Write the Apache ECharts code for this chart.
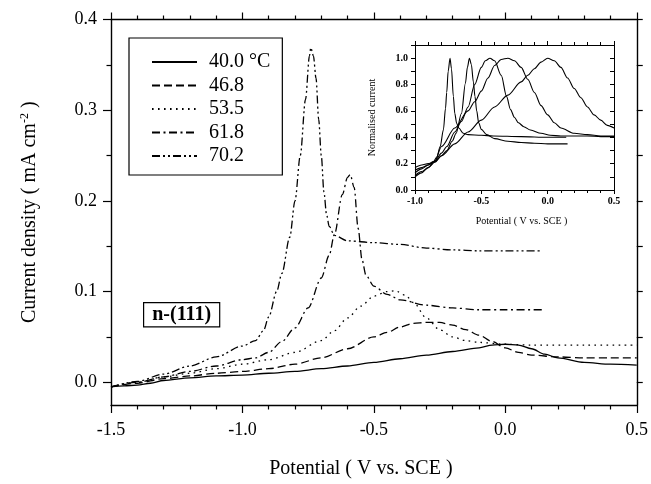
<!DOCTYPE html>
<html>
<head>
<meta charset="utf-8">
<script src="https://cdn.jsdelivr.net/npm/echarts@6/dist/echarts.min.js"></script>
<style>
html,body{margin:0;padding:0;background:#fff;}
#chart{width:651px;height:484px;}
</style>
</head>
<body>
<div id="chart"></div>
<script>
// ---------- Main chart data (Potential V vs SCE, current density mA cm^-2) ----------
const seriesNames = ['40.0 °C', '46.8', '53.5', '61.8', '70.2'];

const v40 = [-1.5,-1.45,-1.4,-1.35,-1.3,-1.2,-1.1,-1.0,-0.9,-0.8,-0.7,-0.6,-0.5,-0.4,-0.3,-0.2,-0.1,-0.05,0.0,0.05,0.1,0.15,0.2,0.3,0.4,0.5];
const j40 = [-0.005,-0.004,-0.003,-0.001,0.002,0.005,0.007,0.008,0.010,0.012,0.015,0.018,0.022,0.026,0.030,0.034,0.038,0.041,0.042,0.041,0.037,0.031,0.027,0.022,0.020,0.019];

const v47 = [-1.5,-1.4,-1.3,-1.2,-1.1,-1.0,-0.9,-0.8,-0.7,-0.6,-0.5,-0.45,-0.4,-0.35,-0.3,-0.25,-0.2,-0.15,-0.1,-0.05,0.0,0.05,0.1,0.2,0.3,0.4,0.5];
const j47 = [-0.005,-0.001,0.004,0.007,0.010,0.012,0.015,0.020,0.027,0.037,0.050,0.055,0.061,0.065,0.066,0.066,0.063,0.058,0.052,0.045,0.038,0.033,0.030,0.028,0.027,0.027,0.027];

const v54 = [-1.5,-1.4,-1.3,-1.2,-1.1,-1.0,-0.9,-0.8,-0.7,-0.65,-0.6,-0.55,-0.5,-0.45,-0.42,-0.38,-0.35,-0.3,-0.25,-0.2,-0.15,-0.1,0.0,0.1,0.3,0.5];
const j54 = [-0.005,0.000,0.006,0.010,0.015,0.020,0.025,0.033,0.046,0.057,0.071,0.084,0.095,0.100,0.101,0.096,0.088,0.071,0.058,0.050,0.046,0.044,0.042,0.041,0.041,0.041];

const v62 = [-1.5,-1.4,-1.3,-1.2,-1.1,-1.0,-0.95,-0.9,-0.85,-0.8,-0.75,-0.7,-0.67,-0.65,-0.62,-0.6,-0.59,-0.575,-0.56,-0.545,-0.53,-0.5,-0.45,-0.4,-0.3,-0.2,-0.1,0.0,0.15];
const j62 = [-0.005,0.000,0.006,0.012,0.018,0.025,0.027,0.033,0.045,0.060,0.082,0.115,0.140,0.163,0.207,0.226,0.229,0.215,0.170,0.135,0.118,0.106,0.097,0.091,0.085,0.082,0.080,0.080,0.080];

const v70 = [-1.5,-1.4,-1.3,-1.2,-1.1,-1.0,-0.95,-0.92,-0.9,-0.87,-0.85,-0.82,-0.8,-0.78,-0.76,-0.745,-0.74,-0.73,-0.72,-0.71,-0.7,-0.69,-0.68,-0.67,-0.65,-0.6,-0.5,-0.4,-0.3,-0.2,-0.1,0.0,0.14];
const j70 = [-0.005,0.001,0.009,0.018,0.028,0.040,0.046,0.057,0.072,0.100,0.120,0.160,0.200,0.250,0.312,0.360,0.369,0.360,0.335,0.290,0.250,0.210,0.185,0.172,0.162,0.156,0.154,0.152,0.148,0.146,0.145,0.145,0.145];

// ---------- Inset data (normalised current) ----------
const iv40 = [-1.0,-0.95,-0.9,-0.85,-0.8,-0.7,-0.6,-0.5,-0.4,-0.3,-0.2,-0.15,-0.1,-0.05,0.0,0.05,0.1,0.15,0.2,0.25,0.3,0.35,0.4,0.45,0.5];
const in40 = [0.10,0.13,0.17,0.21,0.26,0.35,0.44,0.53,0.63,0.72,0.82,0.87,0.92,0.97,1.0,0.98,0.93,0.85,0.77,0.70,0.63,0.57,0.53,0.49,0.47];

const iv47 = [-1.0,-0.95,-0.9,-0.85,-0.8,-0.7,-0.6,-0.55,-0.5,-0.45,-0.4,-0.35,-0.3,-0.25,-0.2,-0.15,-0.1,-0.05,0.0,0.05,0.1,0.2,0.3,0.4,0.5];
const in47 = [0.11,0.14,0.17,0.22,0.33,0.47,0.60,0.67,0.75,0.85,0.945,0.99,1.0,0.98,0.93,0.84,0.74,0.64,0.57,0.51,0.47,0.43,0.42,0.41,0.41];

const iv54 = [-1.0,-0.95,-0.9,-0.85,-0.8,-0.76,-0.7,-0.65,-0.6,-0.55,-0.5,-0.47,-0.435,-0.4,-0.35,-0.31,-0.28,-0.25,-0.22,-0.18,-0.13,-0.05,0.02,0.1,0.2,0.3,0.4,0.5];
const in54 = [0.13,0.16,0.19,0.22,0.28,0.33,0.44,0.52,0.63,0.80,0.93,0.98,1.0,0.98,0.87,0.71,0.61,0.55,0.51,0.48,0.455,0.43,0.415,0.41,0.41,0.41,0.405,0.405];

const iv62 = [-1.0,-0.95,-0.9,-0.85,-0.8,-0.76,-0.72,-0.69,-0.65,-0.62,-0.605,-0.59,-0.575,-0.56,-0.548,-0.535,-0.52,-0.5,-0.46,-0.4,-0.3,-0.2,-0.1,0.0,0.15];
const in62 = [0.15,0.17,0.19,0.215,0.26,0.30,0.37,0.43,0.58,0.81,0.93,1.0,0.95,0.82,0.71,0.60,0.51,0.46,0.42,0.39,0.37,0.36,0.355,0.35,0.35];

const iv70 = [-1.0,-0.95,-0.9,-0.86,-0.836,-0.81,-0.786,-0.77,-0.761,-0.75,-0.736,-0.725,-0.711,-0.7,-0.686,-0.67,-0.636,-0.6,-0.5,-0.41,-0.2,0.0,0.14];
const in70 = [0.17,0.19,0.20,0.215,0.25,0.33,0.456,0.62,0.74,0.90,1.0,0.92,0.71,0.58,0.506,0.47,0.43,0.42,0.415,0.41,0.405,0.40,0.40];

// ---------- Tick values ----------
const mainYLabels = [0.0, 0.1, 0.2, 0.3, 0.4];
const mainYMinor = [0.05, 0.15, 0.25, 0.35];
const mainYRight = [0.0,0.05,0.1,0.15,0.2,0.25,0.3,0.35,0.4];
const insetYLabels = [0.0,0.2,0.4,0.6,0.8,1.0];
const insetYTicks = [0.0,0.1,0.2,0.3,0.4,0.5,0.6,0.7,0.8,0.9,1.0,1.1];

const zip = (a, b) => a.map((x, i) => [x, b[i]]);
const mainV = [v40, v47, v54, v62, v70];
const mainJ = [j40, j47, j54, j62, j70];
const insetV = [iv40, iv47, iv54, iv62, iv70];
const insetN = [in40, in47, in54, in62, in70];
const dashes = ['solid', [8,4], [1.6,4.4], [8,3.5,2,3.5], [8,3,2,3,2,3]];

const FONT = 'Liberation Serif';
const black = '#000';

const chart = echarts.init(document.getElementById('chart'), null, {renderer: 'canvas'});

const series = [];
for (let i = 0; i < 5; i++) {
  series.push({
    name: seriesNames[i], type: 'line', xAxisIndex: 0, yAxisIndex: 0,
    data: zip(mainV[i], mainJ[i]), showSymbol: false, symbol: 'none',
    smooth: 0.3, smoothMonotone: 'x',
    lineStyle: {color: black, width: 1.3, type: dashes[i]},
    itemStyle: {color: black}, z: 3
  });
}
for (let i = 0; i < 5; i++) {
  series.push({
    name: 'inset ' + seriesNames[i], type: 'line', xAxisIndex: 2, yAxisIndex: 3,
    data: zip(insetV[i], insetN[i]), showSymbol: false, symbol: 'none',
    smooth: 0.3, smoothMonotone: 'x',
    lineStyle: {color: black, width: 1.1, type: 'solid'},
    itemStyle: {color: black}, z: 3
  });
}

const axLine = {show: true, onZero: false, lineStyle: {color: black, width: 1.4}};
const axLineI = {show: true, onZero: false, lineStyle: {color: black, width: 1}};
const fmt1 = v => Number(v).toFixed(1);

const option = {
  backgroundColor: '#fff',
  animation: false,
  grid: [
    {left: 111, right: 12, top: 19.5, bottom: 76},
    {left: 415, right: 37, top: 45, bottom: 294}
  ],
  legend: {
    data: seriesNames,
    orient: 'vertical', left: 129, top: 38,
    padding: [14, 12, 9, 22],
    itemWidth: 45, itemHeight: 14, itemGap: 3.5,
    borderColor: black, borderWidth: 1.2,
    itemStyle: {opacity: 0, color: 'rgba(0,0,0,0)', borderWidth: 0},
    textStyle: {fontFamily: FONT, fontSize: 20, color: black, lineHeight: 20, padding: [0, 0, 0, 7]},
    selectedMode: false
  },
  xAxis: [
    {gridIndex: 0, type: 'value', position: 'bottom', min: -1.5, max: 0.5, interval: 0.5,
     axisLine: axLine, axisTick: {show: true, inside: false, length: 8, lineStyle: {color: black, width: 1.2}},
     minorTick: {show: true, splitNumber: 5, length: 4.5, lineStyle: {color: black, width: 1.2}},
     axisLabel: {formatter: fmt1, fontFamily: FONT, fontSize: 18, color: black, margin: 16},
     splitLine: {show: false},
     name: 'Potential ( V vs. SCE )', nameLocation: 'middle', nameGap: 54,
     nameTextStyle: {fontFamily: FONT, fontSize: 20, color: black, padding: [0, 26, 0, 0]}},
    {gridIndex: 0, type: 'value', position: 'top', min: -1.5, max: 0.5, interval: 0.5,
     axisLine: axLine, axisTick: {show: true, inside: false, length: 7, lineStyle: {color: black, width: 1.2}},
     minorTick: {show: true, splitNumber: 5, length: 4, lineStyle: {color: black, width: 1.2}},
     axisLabel: {show: false}, splitLine: {show: false}},
    {gridIndex: 1, type: 'value', position: 'bottom', min: -1.0, max: 0.5, interval: 0.5,
     axisLine: axLineI,
     axisTick: {show: true, inside: false, length: 4, lineStyle: {color: black, width: 1}},
     minorTick: {show: true, splitNumber: 5, length: 3, lineStyle: {color: black, width: 1}},
     axisLabel: {formatter: fmt1, fontFamily: FONT, fontSize: 10, fontWeight: 'bold', color: black, margin: 6},
     splitLine: {show: false},
     name: 'Potential ( V vs. SCE )', nameLocation: 'middle', nameGap: 26,
     nameTextStyle: {fontFamily: FONT, fontSize: 10, color: black, padding: [0, 0, 0, 14]}},
    {gridIndex: 1, type: 'value', position: 'top', min: -1.0, max: 0.5, interval: 0.5,
     axisLine: axLineI,
     axisTick: {show: true, inside: false, length: 4, lineStyle: {color: black, width: 1}},
     minorTick: {show: true, splitNumber: 5, length: 3, lineStyle: {color: black, width: 1}},
     axisLabel: {show: false}, splitLine: {show: false}}
  ],
  yAxis: [
    {gridIndex: 0, type: 'value', position: 'left', min: -0.025, max: 0.4,
     axisLine: axLine,
     axisTick: {show: true, inside: false, length: 8, customValues: mainYLabels, lineStyle: {color: black, width: 1.2}},
     axisLabel: {customValues: mainYLabels, formatter: fmt1, fontFamily: FONT, fontSize: 18, color: black, margin: 14},
     splitLine: {show: false},
     name: 'Current density ( mA cm{sup|-2} )', nameLocation: 'middle', nameGap: 70,
     nameTextStyle: {fontFamily: FONT, fontSize: 20, color: black,
       rich: {sup: {fontFamily: FONT, fontSize: 12, color: black, verticalAlign: 'top', padding: [0, 0, 10, 0]}}}},
    {gridIndex: 0, type: 'value', position: 'left', min: -0.025, max: 0.4,
     axisLine: {show: false, onZero: false},
     axisTick: {show: true, inside: false, length: 4.5, customValues: mainYMinor, lineStyle: {color: black, width: 1.2}},
     axisLabel: {show: false}, splitLine: {show: false}},
    {gridIndex: 0, type: 'value', position: 'right', min: -0.025, max: 0.4,
     axisLine: axLine,
     axisTick: {show: true, inside: false, length: 6, customValues: mainYRight, lineStyle: {color: black, width: 1.2}},
     axisLabel: {show: false}, splitLine: {show: false}},
    {gridIndex: 1, type: 'value', position: 'left', min: 0, max: 1.1,
     axisLine: axLineI,
     axisTick: {show: true, inside: false, length: 4, customValues: insetYTicks, lineStyle: {color: black, width: 1}},
     axisLabel: {customValues: insetYLabels, formatter: fmt1, fontFamily: FONT, fontSize: 10, fontWeight: 'bold', color: black, margin: 7},
     splitLine: {show: false},
     name: 'Normalised current', nameLocation: 'middle', nameGap: 38,
     nameTextStyle: {fontFamily: FONT, fontSize: 10, color: black}},
    {gridIndex: 1, type: 'value', position: 'right', min: 0, max: 1.1,
     axisLine: axLineI,
     axisTick: {show: true, inside: true, length: 4, customValues: insetYTicks, lineStyle: {color: black, width: 1}},
     axisLabel: {show: false}, splitLine: {show: false}}
  ],
  graphic: [
    {type: 'text', left: 143, top: 302, z: 10,
     style: {text: 'n-(111)', font: 'bold 20px "Liberation Serif"', fill: black,
       borderColor: black, borderWidth: 1.2, padding: [2, 8, 1, 8], backgroundColor: '#fff'}}
  ],
  series: series
};
chart.setOption(option);
</script>
</body>
</html>
